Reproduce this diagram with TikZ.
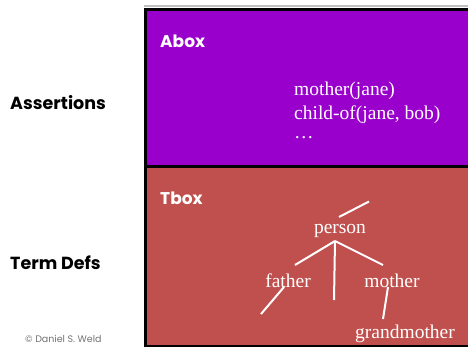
\documentclass[tikz,border=0pt]{standalone}
\usepackage{fontspec}
\setmainfont{Liberation Serif}
\newfontfamily\labelfont{Poppins}
\definecolor{aboxfill}{RGB}{153,0,204}
\definecolor{tboxfill}{RGB}{192,80,77}
\begin{document}
\begin{tikzpicture}[x=1pt,y=-1pt,
  boxlabel/.style={font=\labelfont\bfseries\fontsize{17}{20}\selectfont, text=white, anchor=west, inner sep=0pt},
  sidelabel/.style={font=\labelfont\bfseries\fontsize{17.5}{20}\selectfont, text=black, anchor=west, inner sep=0pt},
  term/.style={font=\fontsize{19.5}{24}\selectfont, text=white, inner sep=0pt},
  panel/.style={draw=black, line width=3pt, minimum width=330pt, anchor=north west, inner sep=0pt},
  link/.style={draw=white, line width=2pt}]
\useasboundingbox (0,0) rectangle (468,346);
\clip (0,0) rectangle (468,346);
% the two boxes
\fill[black!25] (144,5) rectangle (470,7);
\node[panel, fill=aboxfill, minimum height=158pt] (abox) at (144,7.5) {};
\node[panel, fill=tboxfill, minimum height=180pt] (tbox) at (144,164.5) {};
% box titles
\node[boxlabel] (aboxlbl) at (160,41) {Abox};
\node[boxlabel] (tboxlbl) at (160,198) {Tbox};
% side labels
\node[sidelabel] (assert) at (10,103) {Assertions};
\node[sidelabel] (termdefs) at (10,263) {Term Defs};
\node[font=\labelfont\fontsize{9.5}{11}\selectfont, text=black!55, anchor=west, inner sep=0pt] (credit) at (25,339) {\textcopyright{} Daniel S.\ Weld};
% assertions
\node[term, anchor=west] (a1) at (294,91) {mother(jane)};
\node[term, anchor=west] (a2) at (294,115) {child-of(jane, bob)};
\node[term, anchor=west] (a3) at (294,138) {\dots};
% concept taxonomy
\node[term] (person) at (340,231) {person};
\node[term] (father) at (288,281) {father};
\node[term] (mother) at (392,281) {mother};
\node[term] (grandmother) at (405,334) {grandmother};
\coordinate (ptop) at (339,217);
\coordinate (up) at (369,201.5);
\coordinate (root) at (335,241);
\coordinate (fa) at (295,265);
\coordinate (mid) at (334,300);
\coordinate (mo) at (383,265);
\coordinate (fbot) at (284,287);
\coordinate (fdown) at (261,314);
\coordinate (mbot) at (388,287);
\coordinate (gtop) at (383,319);
\draw[link] (ptop) -- (up);
\draw[link] (root) -- (fa);
\draw[link] (root) -- (mid);
\draw[link] (root) -- (mo);
\draw[link] (fbot) -- (fdown);
\draw[link] (mbot) -- (gtop);
\end{tikzpicture}
\end{document}
